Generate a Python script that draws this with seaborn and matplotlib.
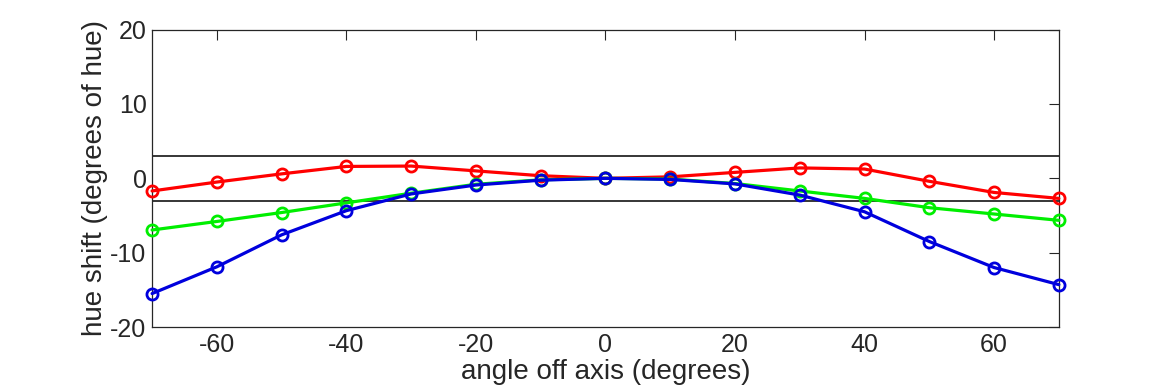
import numpy as np
import pandas as pd
import matplotlib
matplotlib.use("Agg")
import matplotlib.pyplot as plt
import seaborn as sns

# angles and hue shift per channel
angles = [-70, -60, -50, -40, -30, -20, -10, 0, 10, 20, 30, 40, 50, 60, 70]
red = [-1.7, -0.5, 0.6, 1.6, 1.65, 1.0, 0.35, 0.0, 0.2, 0.8, 1.4, 1.25, -0.4, -1.9, -2.7]
green = [-6.95, -5.8, -4.6, -3.3, -2.0, -0.8, -0.2, 0.0, -0.1, -0.7, -1.7, -2.7, -3.95, -4.8, -5.65]
blue = [-15.5, -11.9, -7.6, -4.35, -2.1, -0.9, -0.25, 0.0, -0.15, -0.75, -2.25, -4.5, -8.5, -12.0, -14.3]
tolerance = [3, -3]

df = pd.DataFrame({
    "angle": angles * 3,
    "shift": red + green + blue,
    "channel": ["red"] * 15 + ["green"] * 15 + ["blue"] * 15,
})

sns.set_style("white")
plt.rcParams["font.family"] = ["Liberation Sans", "DejaVu Sans"]
plt.rcParams["axes.unicode_minus"] = False

fig = plt.figure(figsize=(11.7, 3.9), dpi=100)
ax = fig.add_axes([0.13, 0.1615, 0.775, 0.7625])

for t in tolerance:
    ax.axhline(t, color="black", lw=1.1, zorder=1)

sns.lineplot(data=df, x="angle", y="shift", hue="channel",
             palette={"red": "#ff0000", "green": "#00ee00", "blue": "#0000dd"},
             marker="o", markersize=8, markerfacecolor="none", markeredgewidth=2,
             lw=2.3, legend=False, ax=ax, zorder=3)

# seaborn paints marker edges white, give them the line colour
for ln in ax.lines[2:]:
    ln.set_markeredgecolor(ln.get_color())
    ln.set_clip_on(False)

ax.set_xlim(-70, 70)
ax.set_ylim(-20, 20)
ax.set_xticks([-60, -40, -20, 0, 20, 40, 60])
ax.set_yticks([-20, -10, 0, 10, 20])
ax.tick_params(direction="in", length=7, width=0.8, labelsize=18, colors="#262626",
               top=True, right=True, pad=4)
for s in ax.spines.values():
    s.set_color("#262626")
    s.set_linewidth(0.9)
ax.set_xlabel("angle off axis (degrees)", fontsize=20, labelpad=2, color="#262626")
ax.set_ylabel("hue shift (degrees of hue)", fontsize=20, labelpad=2, color="#262626")

fig.savefig("out.png", dpi=100)
